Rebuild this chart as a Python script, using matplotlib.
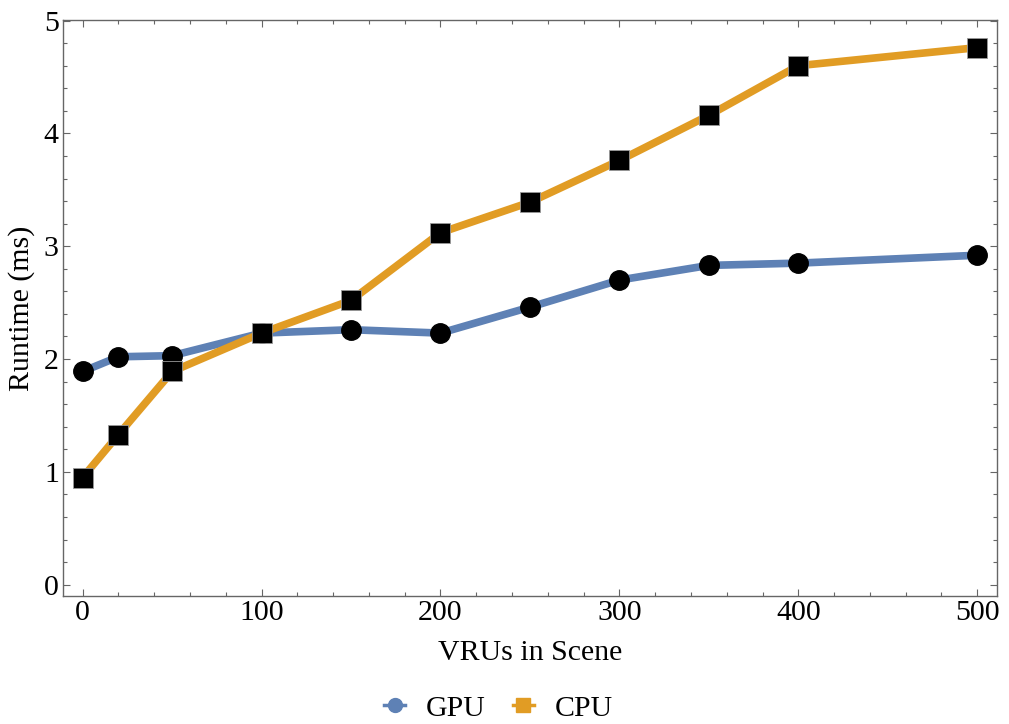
import matplotlib
matplotlib.use("Agg")
import matplotlib.pyplot as plt
from matplotlib.lines import Line2D
from matplotlib.ticker import MultipleLocator

# data
vrus = [0, 20, 50, 100, 150, 200, 250, 300, 350, 400, 500]
gpu_ms = [1.89, 2.02, 2.03, 2.23, 2.26, 2.23, 2.46, 2.70, 2.83, 2.85, 2.92]
cpu_ms = [0.95, 1.33, 1.89, 2.23, 2.52, 3.12, 3.39, 3.76, 4.16, 4.60, 4.76]

gpu_col = "#5E81B5"
cpu_col = "#E19C24"
frame_col = "#666666"
fs = 21.5

plt.rcParams["font.family"] = ["Liberation Serif", "DejaVu Serif"]
plt.rcParams["font.size"] = fs

fig = plt.figure(figsize=(10.09, 7.24), dpi=100)
ax = fig.add_axes([0.0624, 0.1768, 0.9256, 0.7956])

ax.plot(vrus, gpu_ms, color=gpu_col, lw=5.5, marker="o", ms=14,
        mfc="black", mec="black", zorder=3)
ax.plot(vrus, cpu_ms, color=cpu_col, lw=5.5, marker="s", ms=14,
        mfc="black", mec="#999999", mew=0.6, zorder=3)

ax.set_xlim(-11, 511)
ax.set_ylim(-0.1, 5.005)
ax.xaxis.set_major_locator(MultipleLocator(100))
ax.xaxis.set_minor_locator(MultipleLocator(20))
ax.yaxis.set_major_locator(MultipleLocator(1))
ax.yaxis.set_minor_locator(MultipleLocator(0.2))

for s in ax.spines.values():
    s.set_color(frame_col)
    s.set_linewidth(1.0)
ax.tick_params(which="both", direction="in", top=True, right=True,
               color=frame_col, width=0.8)
ax.tick_params(which="major", length=5, pad=3, labelsize=fs)
ax.tick_params(which="minor", length=3)

ax.set_xlabel("VRUs in Scene", fontsize=fs, labelpad=10)
ax.set_ylabel("Runtime (ms)", fontsize=fs, labelpad=6)

handles = [
    Line2D([], [], color=gpu_col, lw=2.5, marker="o", ms=10, mfc=gpu_col, mec=gpu_col),
    Line2D([], [], color=cpu_col, lw=2.5, marker="s", ms=10, mfc=cpu_col, mec=cpu_col),
]
fig.legend(handles, ["GPU", "CPU"], loc="lower center", ncol=2, frameon=False,
           bbox_to_anchor=(0.494, -0.034), handlelength=0.7, handletextpad=0.7,
           columnspacing=0.9, fontsize=fs)

fig.savefig("out.png", dpi=100)
